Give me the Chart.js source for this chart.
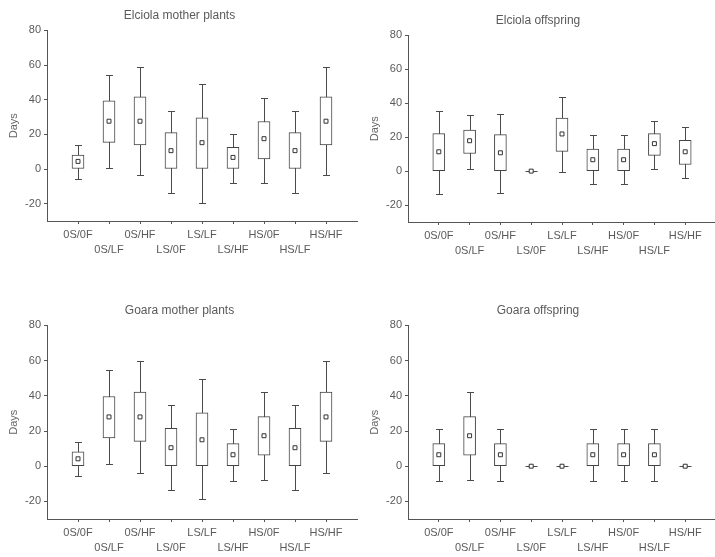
<!DOCTYPE html>
<html>
<head>
<meta charset="utf-8">
<script src="https://cdn.jsdelivr.net/npm/chart.js@4.4.1/dist/chart.umd.min.js"></script>
<style>
  html, body { margin: 0; padding: 0; background: #fff; overflow: hidden; width: 715px; height: 557px; }
  canvas { position: absolute; }
</style>
</head>
<body>
<canvas id="c1" width="362" height="266" style="left:0px;top:0px"></canvas>
<canvas id="c2" width="366" height="262" style="left:355px;top:5px"></canvas>
<canvas id="c3" width="362" height="269" style="left:0px;top:295px"></canvas>
<canvas id="c4" width="366" height="269" style="left:355px;top:295px"></canvas>
<script>
// treatment groups (x axis)
const categories = ['0S/0F', '0S/LF', '0S/HF', 'LS/0F', 'LS/LF', 'LS/HF', 'HS/0F', 'HS/LF', 'HS/HF'];
const yTicks = [-20, 0, 20, 40, 60, 80];

// each row: [whisker low, box low, mean, box high, whisker high]
const elciolaMother = [
  [-5.8, 0, 4.4, 8.1, 13.9],
  [0.8, 15.4, 27.6, 39.3, 54.3],
  [-3.5, 13.9, 27.6, 41.6, 59],
  [-13.9, 0, 10.6, 21, 33.7],
  [-19.7, 0, 15.2, 29.5, 49.3],
  [-8.1, 0, 6.7, 12.5, 20.4],
  [-8.1, 5.8, 17.5, 27.4, 41],
  [-13.9, 0, 10.6, 21, 33.7],
  [-3.5, 13.9, 27.6, 41.6, 59]
];
const elciolaOffspring = [
  [-13.4, 0, 11.4, 22.1, 35.7],
  [1.2, 10.4, 17.9, 24.2, 33.1],
  [-13, 0, 10.8, 21.5, 33.9],
  [0, 0, 0, 0, 0],
  [-0.8, 11.6, 21.9, 31.3, 43.7],
  [-7.7, 0, 6.7, 13, 21.1],
  [-7.7, 0, 6.7, 13, 21.1],
  [1.2, 9.3, 16.2, 22.1, 29.8],
  [-4.1, 3.9, 11.4, 18.1, 26.2]
];
const goaraMother = [
  [-5.3, 0, 4.2, 8.2, 13.7],
  [1.1, 16, 28, 39.6, 54.5],
  [-3.6, 14.1, 28, 42.1, 59.6],
  [-13.3, 0, 10.5, 21.5, 34.5],
  [-18.9, 0, 15, 30.3, 49.3],
  [-8.2, 0, 6.5, 12.8, 21],
  [-7.6, 6.3, 17.3, 28.2, 42.1],
  [-13.3, 0, 10.5, 21.5, 34.5],
  [-3.6, 14.1, 28, 42.1, 59.6]
];
const goaraOffspring = [
  [-8.2, 0, 6.5, 12.8, 21],
  [-7.6, 6.3, 17.3, 28.2, 42.1],
  [-8.2, 0, 6.5, 12.8, 21],
  [0, 0, 0, 0, 0],
  [0, 0, 0, 0, 0],
  [-8.2, 0, 6.5, 12.8, 21],
  [-8.2, 0, 6.5, 12.8, 21],
  [-8.2, 0, 6.5, 12.8, 21],
  [0, 0, 0, 0, 0]
];

const textColor = '#5a5a5a';
const axisColor = '#555';
const boxColor = '#444';
const tickFont = { family: "'Liberation Sans Narrow', 'Liberation Sans', Arial, sans-serif", size: 11, lineHeight: 1.4 };
const BOX_W = 12;
const CAP_W = 7;

function makeWhiskers(stats) {
  return {
    id: 'whiskers',
    beforeDatasetsDraw(chart) {
      const ctx = chart.ctx;
      const x = chart.scales.x, y = chart.scales.y;
      ctx.save();
      ctx.strokeStyle = '#4a4a4a';
      ctx.lineWidth = 1;
      stats.forEach((s, i) => {
        const px = Math.round(x.getPixelForValue(i + 1)) + 0.5;
        const lo = Math.round(y.getPixelForValue(s[0])) + 0.5;
        const hi = Math.round(y.getPixelForValue(s[4])) + 0.5;
        ctx.beginPath();
        ctx.moveTo(px, lo); ctx.lineTo(px, hi);
        ctx.moveTo(px - CAP_W / 2, lo); ctx.lineTo(px + CAP_W / 2, lo);
        ctx.moveTo(px - CAP_W / 2, hi); ctx.lineTo(px + CAP_W / 2, hi);
        if (s[1] === s[3]) {
          // zero-height box is drawn as a flat line
          const b = Math.round(y.getPixelForValue(s[1])) + 0.5;
          ctx.moveTo(px - BOX_W / 2, b); ctx.lineTo(px + BOX_W / 2, b);
        }
        ctx.stroke();
      });
      ctx.restore();
    }
  };
}

function drawPanel(id, title, stats, yAxisWidth, titleX, padRight) {
  const ctx = document.getElementById(id).getContext('2d');
  new Chart(ctx, {
    type: 'bar',
    data: {
      datasets: [
        {
          type: 'line',
          showLine: false,
          data: stats.map((s, i) => ({ x: i + 1, y: s[2] })),
          pointStyle: 'rect',
          pointRadius: 2.8,
          pointBorderWidth: 1,
          pointBorderColor: '#333',
          pointBackgroundColor: '#fff'
        },
        {
          data: stats.map((s, i) => ({ x: i + 1, y: [s[1], s[3]] })),
          backgroundColor: '#fff',
          borderColor: boxColor,
          borderWidth: 1,
          borderSkipped: false,
          barThickness: BOX_W
        }
      ]
    },
    options: {
      responsive: false,
      animation: false,
      layout: { padding: { left: 0, right: padRight, top: 0, bottom: 0 } },
      plugins: {
        legend: { display: false },
        tooltip: { enabled: false },
        title: {
          display: true,
          text: title,
          color: textColor,
          font: { family: "'Liberation Sans', Arial, sans-serif", size: 12, weight: 'normal' },
          padding: { top: 8, bottom: 8 }
        }
      },
      scales: {
        x: {
          type: 'linear',
          min: 0,
          max: 10,
          offset: false,
          afterBuildTicks: axis => { axis.ticks = categories.map((c, i) => ({ value: i + 1 })); },
          afterFit: axis => { axis.height = 45; },
          grid: { drawOnChartArea: false, drawTicks: true, tickLength: 3, color: axisColor, offset: false },
          border: { display: true, color: axisColor },
          ticks: {
            color: textColor,
            font: tickFont,
            padding: 3,
            autoSkip: false,
            maxRotation: 0,
            callback: (v, i) => (i % 2 ? ['', categories[i]] : categories[i])
          }
        },
        y: {
          min: -30,
          max: 80,
          afterBuildTicks: axis => { axis.ticks = yTicks.map(v => ({ value: v })); },
          afterFit: axis => { axis.width = yAxisWidth; },
          grid: { drawOnChartArea: false, drawTicks: true, tickLength: 3, color: axisColor },
          border: { display: true, color: axisColor },
          ticks: { color: textColor, font: { family: tickFont.family, size: 11 }, padding: 3 },
          title: {
            display: true,
            text: 'Days',
            color: '#666',
            font: { family: "'Liberation Sans', Arial, sans-serif", size: 11 },
            padding: { top: titleX, bottom: 0 }
          }
        }
      }
    },
    plugins: [makeWhiskers(stats)]
  });
}

drawPanel('c1', 'Elciola mother plants', elciolaMother, 47, 7, 3);
drawPanel('c2', 'Elciola offspring', elciolaOffspring, 53, 13, 0);
drawPanel('c3', 'Goara mother plants', goaraMother, 47, 7, 3);
drawPanel('c4', 'Goara offspring', goaraOffspring, 53, 13, 0);
</script>
</body>
</html>
